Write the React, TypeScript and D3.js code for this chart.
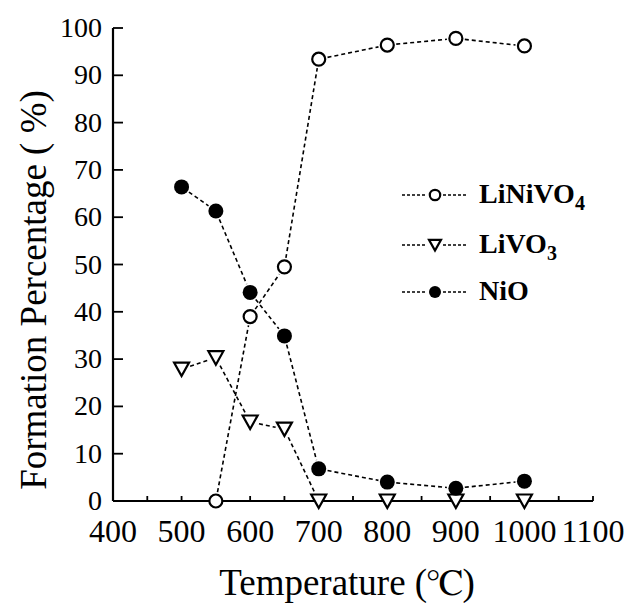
import * as d3 from "d3";

// temperatures (℃) where samples were measured
const temps = [500, 550, 600, 650, 700, 800, 900, 1000];
const liNiVO4 = [null, 0, 39.0, 49.5, 93.4, 96.4, 97.8, 96.2];
const liVO3 = [27.9, 30.3, 16.7, 15.2, 0, 0, 0, 0];
const niO = [66.4, 61.3, 44.1, 34.9, 6.8, 4.0, 2.7, 4.2];

const xTicks = d3.range(400, 1101, 50);
const xLabels = d3.range(400, 1101, 100);
const yTicks = d3.range(0, 101, 10);

const seriesNames = ["LiNiVO", "LiVO", "NiO"];
const seriesSubs = ["4", "3", ""];

const FONT = "Liberation Serif";

const width = 627;
const height = 603;
const x = d3.scaleLinear().domain([400, 1100]).range([113, 593]);
const y = d3.scaleLinear().domain([0, 100]).range([501, 28]);

const GAP = 9;

// dashed segments trimmed so they stop short of the markers
function segments(vals: (number | null)[]) {
  const pts = temps
    .map((t, i) => (vals[i] == null ? null : [x(t), y(vals[i] as number)]))
    .filter((p) => p != null) as [number, number][];
  const segs: number[][] = [];
  for (let i = 0; i < pts.length - 1; i++) {
    const [x0, y0] = pts[i];
    const [x1, y1] = pts[i + 1];
    const len = Math.hypot(x1 - x0, y1 - y0);
    if (len <= GAP * 2) continue;
    const ux = (x1 - x0) / len;
    const uy = (y1 - y0) / len;
    segs.push([x0 + ux * GAP, y0 + uy * GAP, x1 - ux * GAP, y1 - uy * GAP]);
  }
  return { pts, segs };
}

const Marker = ({ kind, cx, cy, s }: { kind: number; cx: number; cy: number; s: number }) => {
  if (kind === 0)
    return <circle cx={cx} cy={cy} r={6.5 * s} fill="#fff" stroke="#000" strokeWidth={2.2} />;
  if (kind === 1)
    return (
      <path
        transform={`translate(${cx},${cy})`}
        d={`M${-7.5 * s},${-6.5 * s}L${7.5 * s},${-6.5 * s}L0,${7 * s}Z`}
        fill="#fff"
        stroke="#000"
        strokeWidth={2.2}
      />
    );
  return <circle cx={cx} cy={cy} r={7.5 * s} fill="#000" />;
};

const App = () => {
  const series = [liNiVO4, liVO3, niO].map(segments);
  const legendY = [195, 245, 292];

  return (
    <svg
      width={width}
      height={height}
      fontFamily={FONT}
      style={{ position: "absolute", left: 0, top: 0, background: "#fff" }}
    >
      {/* x axis */}
      <line x1={x(400)} x2={x(1100)} y1={y(0)} y2={y(0)} stroke="#000" strokeWidth={2.2} />
      {xTicks.map((t) => (
        <line key={t} x1={x(t)} x2={x(t)} y1={y(0)} y2={y(0) - 5} stroke="#000" strokeWidth={1.8} />
      ))}
      {xLabels.map((t) => (
        <text key={t} x={x(t)} y={542} textAnchor="middle" fontSize={32} fontFamily={FONT}>
          {t}
        </text>
      ))}

      {/* y axis */}
      <line x1={x(400)} x2={x(400)} y1={y(0)} y2={y(100)} stroke="#000" strokeWidth={2.2} />
      {yTicks.map((t) => (
        <g key={t}>
          <line x1={x(400)} x2={x(400) + 10} y1={y(t)} y2={y(t)} stroke="#000" strokeWidth={1.8} />
          <text x={102} y={y(t) + 9} textAnchor="end" fontSize={28} fontFamily={FONT}>
            {t}
          </text>
        </g>
      ))}

      {/* titles */}
      <text x={347} y={595} textAnchor="middle" fontSize={37} fontFamily={FONT}>
        Temperature (<tspan fontFamily="FreeSerif">℃</tspan>)
      </text>
      <text
        transform="translate(46,290) rotate(-90)"
        textAnchor="middle"
        fontSize={37}
        fontFamily={FONT}
      >
        Formation Percentage (  %)
      </text>

      {/* lines */}
      {series.map((s, k) =>
        s.segs.map((sg, i) => (
          <line
            key={`${k}-${i}`}
            x1={sg[0]}
            y1={sg[1]}
            x2={sg[2]}
            y2={sg[3]}
            stroke="#000"
            strokeWidth={1.6}
            strokeDasharray="4 3"
          />
        ))
      )}
      {/* markers */}
      {series.map((s, k) =>
        s.pts.map(([cx, cy], i) => <Marker key={`m${k}-${i}`} kind={k} cx={cx} cy={cy} s={1} />)
      )}

      {/* legend */}
      {seriesNames.map((name, k) => {
        const ly = legendY[k];
        return (
          <g key={name}>
            <line x1={402} x2={427} y1={ly} y2={ly} stroke="#000" strokeWidth={1.3} strokeDasharray="3 2" />
            <line x1={443} x2={466} y1={ly} y2={ly} stroke="#000" strokeWidth={1.3} strokeDasharray="3 2" />
            <Marker kind={k} cx={435} cy={ly} s={0.8} />
            <text x={479} y={ly + 8} fontSize={28} fontWeight="bold" fontFamily={FONT}>
              {name}
              {seriesSubs[k] ? (
                <tspan dy={7} fontSize={20}>
                  {seriesSubs[k]}
                </tspan>
              ) : null}
            </text>
          </g>
        );
      })}
    </svg>
  );
};

export default App;
